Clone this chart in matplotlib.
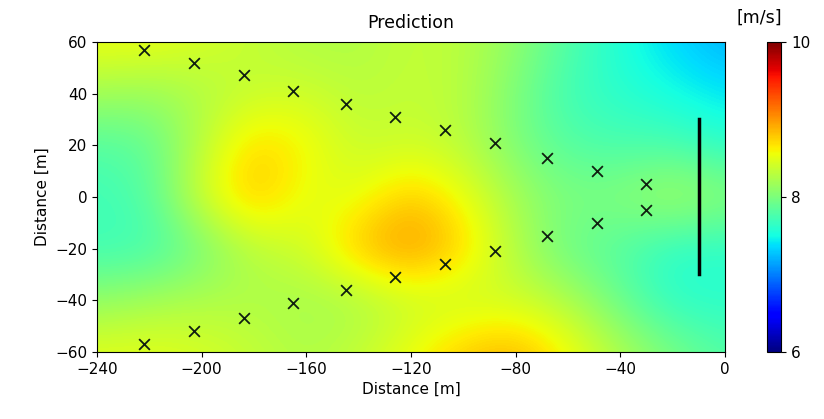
import matplotlib.pyplot as plt
import numpy as np

# coarse velocity grid (rows: y = 60 .. -60, cols: x = -240 .. 0, step 20 m)
grid_x = np.arange(-240, 1, 20)
grid_y = np.arange(60, -61, -20)
speed = np.array([
    [8.55, 8.55, 8.45, 8.35, 8.25, 8.25, 8.35, 8.30, 8.10, 7.80, 7.55, 7.35, 7.20],
    [8.20, 8.15, 8.25, 8.35, 8.40, 8.30, 8.35, 8.30, 8.00, 7.70, 7.60, 7.50, 7.40],
    [7.80, 7.85, 8.30, 8.75, 8.60, 8.35, 8.40, 8.30, 8.00, 7.80, 7.75, 7.75, 7.60],
    [7.70, 7.80, 8.45, 8.85, 8.50, 8.50, 8.80, 8.55, 8.20, 8.00, 8.05, 8.25, 8.10],
    [7.70, 7.70, 7.95, 8.30, 8.40, 8.85, 9.05, 8.75, 8.25, 7.90, 7.80, 7.60, 7.60],
    [8.10, 8.20, 8.25, 8.25, 8.20, 8.20, 8.35, 8.35, 8.40, 8.25, 7.90, 7.60, 7.60],
    [8.50, 8.50, 8.45, 8.35, 8.25, 8.35, 8.55, 8.80, 8.90, 8.60, 8.25, 8.00, 7.80],
])

# receiver / source positions
upper_x = [-222, -203, -184, -165, -145, -126, -107, -88, -68, -49, -30]
upper_y = [57, 52, 47, 41, 36, 31, 26, 21, 15, 10, 5]
lower_x = upper_x
lower_y = [-57, -52, -47, -41, -36, -31, -26, -21, -15, -10, -5]

line_x = [-10, -10]
line_y = [-30, 30]

fig = plt.figure(figsize=(8.24, 4.19), dpi=100)
ax = fig.add_axes([0.1177, 0.16, 0.7621, 0.74])
cax = fig.add_axes([0.931, 0.16, 0.017, 0.74])

im = ax.imshow(speed, cmap="jet", vmin=6, vmax=10, interpolation="bicubic",
               extent=[grid_x[0] - 10, grid_x[-1] + 10, grid_y[-1] - 10, grid_y[0] + 10],
               aspect="auto")
ax.set_xlim(-240, 0)
ax.set_ylim(-60, 60)

ax.scatter(upper_x, upper_y, marker="x", color="#102010", s=60, linewidths=1.3)
ax.scatter(lower_x, lower_y, marker="x", color="#102010", s=60, linewidths=1.3)
ax.plot(line_x, line_y, color="black", linewidth=2.5)

ax.set_xticks(np.arange(-240, 1, 40))
ax.set_yticks(np.arange(-60, 61, 20))
ax.tick_params(labelsize=11)
ax.set_title("Prediction", fontsize=12.5, pad=10)
ax.set_xlabel("Distance [m]", fontsize=11)
ax.set_ylabel("Distance [m]", fontsize=11)

cb = fig.colorbar(im, cax=cax, ticks=[6, 8, 10])
cb.ax.tick_params(labelsize=11)
cb.outline.set_linewidth(0.8)
fig.text(0.922, 0.945, "[m/s]", fontsize=12.5, ha="center")

fig.savefig("out.png", dpi=100)
